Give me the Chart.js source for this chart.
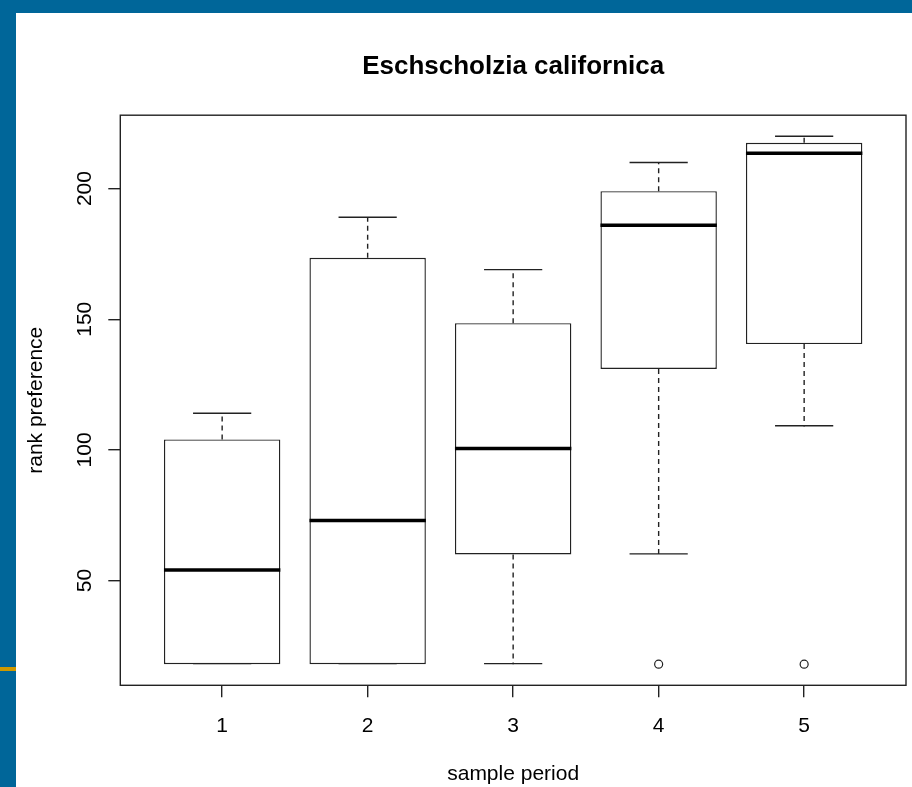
<!DOCTYPE html>
<html>
<head>
<meta charset="utf-8">
<script src="https://cdn.jsdelivr.net/npm/chart.js@4.4.1/dist/chart.umd.min.js"></script>
<style>
  html, body { margin: 0; padding: 0; background: #fff; }
  body { width: 912px; height: 787px; position: relative; overflow: hidden; }
  #chart { position: absolute; left: 0; top: 0; }
  .band-top { position: absolute; left: 0; top: 0; width: 912px; height: 13px; background: #006699; }
  .band-left { position: absolute; left: 0; top: 0; width: 16px; height: 787px; background: #006699; }
  .mark { position: absolute; left: 0; top: 667px; width: 16px; height: 4px; background: #cc9900; }
</style>
</head>
<body>
<canvas id="chart" width="912" height="787"></canvas>
<div class="band-top"></div>
<div class="band-left"></div>
<div class="mark"></div>
<script>
// Data
const categories = [1, 2, 3, 4, 5];
const lowerWhisker = [18, 18, 18, 60, 109];
const lowerQuartile = [18, 18, 60, 131, 140.5];
const medians = [54, 73, 100.5, 186, 213.5];
const upperQuartile = [104, 173.5, 148.5, 199, 217.5];
const upperWhisker = [114, 189, 169, 210, 220];
const outlierX = [4, 5];
const outlierY = [18, 18];
const yTicks = [50, 100, 150, 200];

const FONT = '"Liberation Sans", Arial, Helvetica, sans-serif';
const LINE = "#222";
const LW = 1.4;

Chart.defaults.font.family = FONT;
Chart.defaults.color = "#000";

// Whiskers, medians and plot frame, placed through the chart scales
const boxExtras = {
	id: "boxExtras",
	beforeDatasetsDraw(chart) {
		const { ctx, scales: { x, y } } = chart;
		ctx.save();
		ctx.strokeStyle = LINE;
		ctx.lineWidth = LW;
		categories.forEach((c, i) => {
			const cx = x.getPixelForValue(c);
			const capL = x.getPixelForValue(c - 0.2);
			const capR = x.getPixelForValue(c + 0.2);
			// dashed stems
			ctx.setLineDash([5, 4]);
			ctx.beginPath();
			ctx.moveTo(cx, y.getPixelForValue(upperQuartile[i]));
			ctx.lineTo(cx, y.getPixelForValue(upperWhisker[i]));
			ctx.moveTo(cx, y.getPixelForValue(lowerQuartile[i]));
			ctx.lineTo(cx, y.getPixelForValue(lowerWhisker[i]));
			ctx.stroke();
			// caps
			ctx.setLineDash([]);
			ctx.beginPath();
			const yu = y.getPixelForValue(upperWhisker[i]);
			const yl = y.getPixelForValue(lowerWhisker[i]) - 0.6;
			ctx.moveTo(capL, yu);
			ctx.lineTo(capR, yu);
			ctx.moveTo(capL, yl);
			ctx.lineTo(capR, yl);
			ctx.stroke();
		});
		ctx.restore();
	},
	afterDatasetsDraw(chart) {
		const { ctx, chartArea, scales: { x, y } } = chart;
		ctx.save();
		ctx.strokeStyle = "#000";
		ctx.lineWidth = 3.5;
		categories.forEach((c, i) => {
			const ym = y.getPixelForValue(medians[i]);
			ctx.beginPath();
			ctx.moveTo(x.getPixelForValue(c - 0.4), ym);
			ctx.lineTo(x.getPixelForValue(c + 0.4), ym);
			ctx.stroke();
		});
		// frame
		ctx.strokeStyle = LINE;
		ctx.lineWidth = LW;
		const { left, top, right, bottom } = chartArea;
		ctx.strokeRect(left, top, right - left, bottom - top);
		ctx.restore();
	},
};

const DATA = {
	datasets: [
		{
			type: "bar",
			data: categories.map((c, i) => ({ x: c, y: [lowerQuartile[i], upperQuartile[i]] })),
			backgroundColor: "#fff",
			borderColor: LINE,
			borderWidth: LW,
			borderSkipped: false,
			barPercentage: 0.8,
			categoryPercentage: 1,
		},
		{
			type: "scatter",
			data: outlierX.map((v, i) => ({ x: v, y: outlierY[i] })),
			pointRadius: 4,
			pointBorderWidth: 1.2,
			pointBorderColor: LINE,
			pointBackgroundColor: "rgba(0,0,0,0)",
		},
	],
};

const CONFIG = {
	type: "bar",
	data: DATA,
	plugins: [boxExtras],
	options: {
		responsive: false,
		animation: false,
		layout: {
			padding: { left: 0, right: 6, top: 0, bottom: 0 },
		},
		plugins: {
			legend: { display: false },
			tooltip: { enabled: false },
			title: {
				display: true,
				fullSize: false,
				text: "Eschscholzia californica",
				color: "#000",
				font: { size: 26, weight: "bold" },
				padding: { top: 51, bottom: 33 },
			},
		},
		scales: {
			x: {
				type: "linear",
				min: 0.3,
				max: 5.7,
				offset: false,
				border: { display: false },
				grid: {
					display: true,
					offset: false,
					drawOnChartArea: false,
					drawTicks: true,
					tickLength: 12,
					color: LINE,
					lineWidth: LW,
				},
				ticks: {
					color: "#000",
					font: { size: 21 },
					padding: 16,
					maxRotation: 0,
				},
				title: {
					display: true,
					text: "sample period",
					color: "#000",
					font: { size: 21 },
					padding: { top: 0, bottom: 0 },
				},
				afterBuildTicks: (s) => {
					s.ticks = categories.map((v) => ({ value: v }));
				},
				afterFit: (s) => {
					s.height = 101.7;
				},
			},
			y: {
				type: "linear",
				min: 9.92,
				max: 228.08,
				border: { display: false },
				grid: {
					display: true,
					drawOnChartArea: false,
					drawTicks: true,
					tickLength: 12,
					color: LINE,
					lineWidth: LW,
				},
				ticks: {
					color: "#000",
					font: { size: 21 },
					padding: 5.3,
					minRotation: 90,
					maxRotation: 90,
					crossAlign: "center",
				},
				title: {
					display: true,
					text: "rank preference",
					color: "#000",
					font: { size: 21 },
					padding: { top: 23.4, bottom: 0 },
				},
				afterBuildTicks: (s) => {
					s.ticks = yTicks.map((v) => ({ value: v }));
				},
				afterFit: (s) => {
					s.width = 120.3;
				},
			},
		},
	},
};

new Chart(document.getElementById("chart"), CONFIG);
</script>
</body>
</html>
